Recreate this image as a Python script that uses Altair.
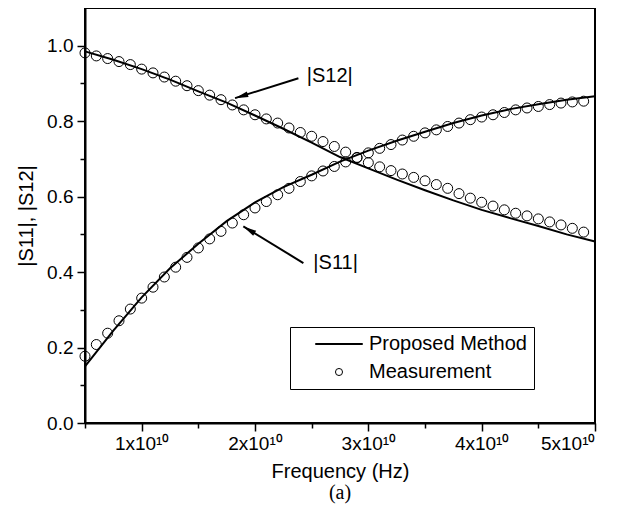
import altair as alt
import pandas as pd

# ---- data (frequency in units of 1e10 Hz) ----
line_freq = [0.5, 0.75, 1.0, 1.25, 1.5, 1.75, 2.0, 2.25, 2.5, 2.75, 3.0, 3.25,
             3.5, 3.75, 4.0, 4.25, 4.5, 4.75, 5.0]
s11_line = [0.150, 0.245, 0.333, 0.410, 0.475, 0.535, 0.585, 0.625, 0.658, 0.693,
            0.722, 0.748, 0.772, 0.795, 0.815, 0.832, 0.845, 0.857, 0.866]
s12_line = [0.985, 0.963, 0.938, 0.910, 0.879, 0.849, 0.815, 0.780, 0.743, 0.705,
            0.675, 0.645, 0.617, 0.590, 0.565, 0.543, 0.522, 0.500, 0.481]

meas_freq = [0.5, 0.6, 0.7, 0.8, 0.9, 1.0, 1.1, 1.2, 1.3, 1.4, 1.5, 1.6, 1.7, 1.8,
             1.9, 2.0, 2.1, 2.2, 2.3, 2.4, 2.5, 2.6, 2.7, 2.8, 2.9, 3.0, 3.1, 3.2,
             3.3, 3.4, 3.5, 3.6, 3.7, 3.8, 3.9, 4.0, 4.1, 4.2, 4.3, 4.4, 4.5, 4.6,
             4.7, 4.8, 4.9]
s11_meas = [0.177, 0.208, 0.238, 0.271, 0.302, 0.331, 0.360, 0.387, 0.413, 0.439,
            0.464, 0.488, 0.508, 0.530, 0.552, 0.570, 0.587, 0.605, 0.622, 0.640,
            0.655, 0.668, 0.680, 0.692, 0.704, 0.716, 0.728, 0.738, 0.750, 0.760,
            0.769, 0.777, 0.786, 0.795, 0.804, 0.811, 0.817, 0.823, 0.830, 0.835,
            0.839, 0.844, 0.848, 0.851, 0.853]
s12_meas = [0.981, 0.973, 0.966, 0.958, 0.950, 0.938, 0.928, 0.917, 0.906, 0.894,
            0.881, 0.869, 0.857, 0.843, 0.830, 0.817, 0.806, 0.795, 0.782, 0.770,
            0.760, 0.746, 0.733, 0.718, 0.703, 0.690, 0.679, 0.669, 0.660, 0.651,
            0.642, 0.632, 0.622, 0.608, 0.596, 0.585, 0.575, 0.565, 0.556, 0.549,
            0.541, 0.533, 0.525, 0.516, 0.506]

x_major = [1, 2, 3, 4, 5]
x_minor = [0.5, 1.5, 2.5, 3.5, 4.5]
y_major = [0.0, 0.2, 0.4, 0.6, 0.8, 1.0]
y_minor = [0.1, 0.3, 0.5, 0.7, 0.9]

ann_labels = ["|S12|", "|S11|"]
ann_text_x = [2.457, 2.515]
ann_text_y = [0.919, 0.424]
ann_start_x = [2.383, 2.427]
ann_start_y = [0.914, 0.424]
ann_tip_x = [1.824, 1.897]
ann_tip_y = [0.861, 0.521]
ann_angle = [253, 301]

legend_names = ["Proposed Method", "Measurement"]

E = 1e10
FONT = "Liberation Sans"
LEG_SIZE = 50
half = 23.5 / ((LEG_SIZE ** 0.5) / 2)
hh = 0.5 / ((LEG_SIZE ** 0.5) / 2)
line_path = f"M-{half:.3f},-{hh:.3f}L{half:.3f},-{hh:.3f}L{half:.3f},{hh:.3f}L-{half:.3f},{hh:.3f}Z"
arrow_path = "M0,0L-0.22,1L0.22,1Z"

lines_df = pd.DataFrame({
    "f": [v * E for v in line_freq] * 2,
    "val": s11_line + s12_line,
    "curve": ["S11"] * len(line_freq) + ["S12"] * len(line_freq),
})
meas_df = pd.DataFrame({
    "f": [v * E for v in meas_freq] * 2,
    "val": s11_meas + s12_meas,
    "curve": ["S11"] * len(meas_freq) + ["S12"] * len(meas_freq),
    "kind": ["Measurement"] * (2 * len(meas_freq)),
})
ann_df = pd.DataFrame({
    "label": ann_labels,
    "tx": [v * E for v in ann_text_x], "ty": ann_text_y,
    "sx": [v * E for v in ann_start_x], "sy": ann_start_y,
    "ex": [v * E for v in ann_tip_x], "ey": ann_tip_y,
    "angle": ann_angle,
})

xscale = alt.Scale(domain=[0.5 * E, 5 * E], nice=False, zero=False)
yscale = alt.Scale(domain=[0, 1.1], nice=False, zero=False)

x_major_axis = alt.Axis(
    orient="bottom", values=[v * E for v in x_major],
    labelExpr="format(datum.value/1e10,'d') + 'x10¹⁰'",
    title="Frequency (Hz)", tickSize=8, labelPadding=3, titlePadding=8,
    grid=False,
)
y_major_axis = alt.Axis(
    orient="left", values=y_major, format=".1f", title="|S11|, |S12|",
    tickSize=8, labelPadding=4, titlePadding=10, grid=False,
)
x_minor_axis = alt.Axis(orient="bottom", values=[v * E for v in x_minor],
                        labels=False, title=None, tickSize=5, domain=False, grid=False)
y_minor_axis = alt.Axis(orient="left", values=y_minor, labels=False, title=None,
                        tickSize=5, domain=False, grid=False)

lines = alt.Chart(lines_df).mark_line(color="black", strokeWidth=2).encode(
    x=alt.X("f:Q", scale=xscale, axis=x_major_axis),
    y=alt.Y("val:Q", scale=yscale, axis=y_major_axis),
    detail="curve:N",
)

points = alt.Chart(meas_df).mark_point(
    filled=False, size=100, color="black", strokeWidth=1, opacity=1
).encode(
    x=alt.X("f:Q", scale=xscale, axis=x_minor_axis),
    y=alt.Y("val:Q", scale=yscale, axis=y_minor_axis),
    detail="curve:N",
    shape=alt.Shape(
        "kind:N",
        scale=alt.Scale(domain=legend_names, range=[line_path, "circle"]),
        legend=alt.Legend(
            orient="none", legendX=205, legendY=319, title=None,
            strokeColor="black", fillColor="white", padding=7,
            labelFont=FONT, labelFontSize=20, labelColor="black", labelLimit=300,
            labelExpr="datum.label + '\u00a0\u00a0'",
            symbolStrokeColor="black", symbolStrokeWidth=1, symbolSize=LEG_SIZE,
            symbolOffset=32, labelOffset=20, rowPadding=8,
        ),
    ),
)

arrows = alt.Chart(ann_df).mark_rule(color="black", strokeWidth=2).encode(
    x=alt.X("sx:Q", scale=xscale, axis=None),
    y=alt.Y("sy:Q", scale=yscale, axis=None),
    x2="ex:Q", y2="ey:Q",
)
heads = alt.Chart(ann_df).mark_point(
    shape=arrow_path, filled=True, color="black", size=700, opacity=1
).encode(
    x=alt.X("ex:Q", scale=xscale, axis=None),
    y=alt.Y("ey:Q", scale=yscale, axis=None),
    angle=alt.Angle("angle:Q", scale=None),
)
texts = alt.Chart(ann_df).mark_text(
    align="left", baseline="middle", font=FONT, fontSize=20, color="black"
).encode(
    x=alt.X("tx:Q", scale=xscale, axis=None),
    y=alt.Y("ty:Q", scale=yscale, axis=None),
    text="label:N",
)

chart = alt.layer(lines, points, arrows, heads, texts).resolve_axis(
    x="independent", y="independent"
).properties(
    width=510, height=415,
    autosize=alt.AutoSizeParams(type="none"),
    padding={"left": 77, "top": 0, "right": 24, "bottom": 94},
    title=alt.TitleParams("(a)", orient="bottom", font="Liberation Serif",
                          fontSize=20, fontWeight="normal", color="black", offset=2),
).configure_view(
    stroke="black", strokeWidth=2
).configure_axis(
    domainColor="black", domainWidth=2, tickColor="black", tickWidth=1.5,
    labelColor="black", titleColor="black", labelFont=FONT, titleFont=FONT,
    labelFontSize=19, titleFontSize=20, titleFontWeight="normal",
)

chart.save("out.html", embed_options={"renderer": "svg", "actions": False})
